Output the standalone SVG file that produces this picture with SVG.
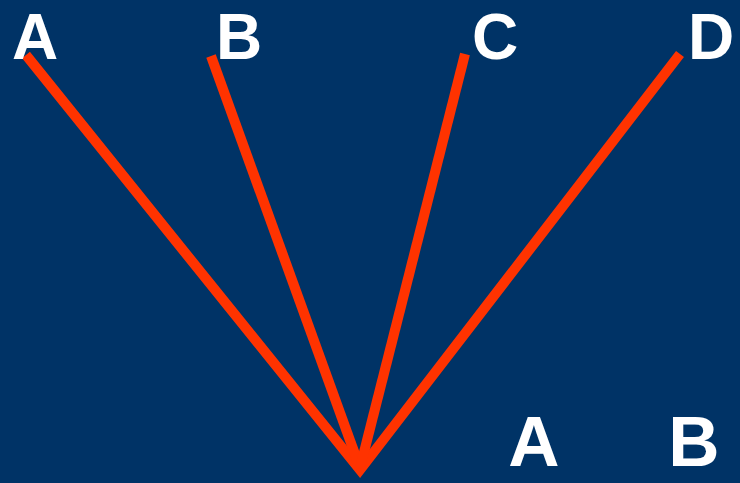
<svg xmlns="http://www.w3.org/2000/svg" width="740" height="483" viewBox="0 0 740 483">
<style>
.lbl{font-family:"Gill Sans","Liberation Sans","DejaVu Sans",sans-serif;font-weight:bold;font-size:71px;fill:#ffffff;text-anchor:middle}
.top{font-size:64px}
.ln{stroke:#ff3300;stroke-width:10;fill:none;stroke-linejoin:miter;stroke-miterlimit:10}
</style>
<rect width="740" height="483" fill="#003366"/>
<g id="connectors">
<polyline class="ln" points="26,55 360,470 680,54"/>
<line class="ln" x1="211" y1="56" x2="360" y2="468"/>
<line class="ln" x1="465" y1="54" x2="360" y2="468"/>
</g>
<g id="node-A-top"><text class="lbl top" x="35" y="59">A</text></g>
<g id="node-B-top"><text class="lbl top" x="239" y="59">B</text></g>
<g id="node-C-top"><text class="lbl top" x="495" y="59">C</text></g>
<g id="node-D-top"><text class="lbl top" x="711" y="59">D</text></g>
<g id="node-A-bottom"><text class="lbl" x="534" y="466">A</text></g>
<g id="node-B-bottom"><text class="lbl" x="694" y="466">B</text></g>
</svg>
